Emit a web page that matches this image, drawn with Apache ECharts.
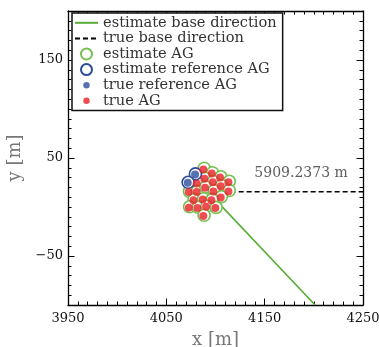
<!DOCTYPE html>
<html><head><meta charset="utf-8">
<script src="https://cdn.jsdelivr.net/npm/echarts@6/dist/echarts.min.js"></script>
<style>html,body{margin:0;padding:0;background:#fff}#c{width:379px;height:347px}</style>
</head><body><div id="c"></div>
<script>
const xTickLabels = [3950, 4050, 4150, 4250];
const yTickLabels = [-50, 50, 150];
const xRange = [3950, 4250];
const yRange = [-100, 200];

const estimateBaseDirection = [[4091, 17.0], [4201.3, -100]];
const trueBaseDirection = [[4091, 15.6], [4250, 15.6]];

const trueAG = [
  [4087.6, 38.3], [4096.2, 34.2], [4104.6, 30.1], [4113.1, 25.3],
  [4088.7, 28.8], [4080.9, 24.0], [4097.2, 25.3], [4105.3, 21.3],
  [4113.1, 15.9], [4072.8, 15.2], [4080.9, 15.2], [4089.4, 19.6],
  [4097.8, 15.9], [4105.3, 9.8], [4077.5, 7.0], [4087.0, 7.7],
  [4095.8, 7.0], [4072.8, -0.7], [4081.5, -1.1], [4090.4, 0.3],
  [4099.8, -1.1], [4087.6, -9.3]
];
const estimateAG = [
  [4088.5, 39.5], [4097.0, 35.0], [4105.5, 30.8], [4114.0, 26.2],
  [4089.5, 29.5], [4081.8, 24.8], [4098.0, 26.0], [4106.2, 22.0],
  [4114.0, 16.8], [4073.5, 16.0], [4081.5, 16.0], [4090.2, 20.4],
  [4098.6, 16.6], [4106.0, 10.6], [4078.2, 7.8], [4087.8, 8.4],
  [4096.6, 7.8], [4073.6, 0.2], [4082.3, -0.3], [4091.2, 1.0],
  [4100.6, -0.4], [4088.4, -8.4]
];
const estimateRefAG = [[4079.6, 33.8], [4072.2, 25.2]];
const trueRefAG = [[4079.2, 33.2], [4071.8, 24.7]];

const distanceLabel = '5909.2373 m';
const distanceLabelPos = [[4187, 34.7]];

const FONT = 'DejaVu Serif';
const cGreenLine = '#57ad36';
const cGreenRing = '#74c150';
const cBlue = '#2d4c9c';
const cRed = '#ea1f26';
const MINOR_LEN = 3.5;
const MAJOR_LEN = 6.5;

const fmt = v => (v < 0 ? '\u2212' + String(-v) : String(v));

// kind: 'main' (line + labels), 'frame' (line only), 'minor' / 'major' (tick overlays shifted into the plot)
function makeAxis(dim, pos, kind) {
  const range = dim === 'x' ? xRange : yRange;
  const labelsAt = dim === 'x' ? xTickLabels : yTickLabels;
  const ax = {
    type: 'value', min: range[0], max: range[1], interval: 10, position: pos,
    splitLine: {show: false},
    axisLine: {show: kind === 'main' || kind === 'frame', onZero: false, lineStyle: {color: '#000', width: 1.3}},
    axisTick: {show: false},
    axisLabel: {show: false}
  };
  if (kind === 'minor') {
    ax.offset = -MINOR_LEN;
    ax.axisTick = {show: true, inside: false, length: MINOR_LEN, lineStyle: {color: '#000', width: 1}};
  } else if (kind === 'major') {
    ax.offset = -MAJOR_LEN;
    ax.axisTick = {show: true, inside: false, length: MAJOR_LEN, customValues: labelsAt, lineStyle: {color: '#000', width: 1}};
  } else if (kind === 'main') {
    ax.axisLabel = {show: true, customValues: labelsAt, formatter: fmt, fontFamily: FONT, fontSize: 13, color: '#111', margin: dim === 'x' ? 7 : 5};
    ax.name = dim === 'x' ? 'x [m]' : 'y [m]';
    ax.nameLocation = 'middle';
    ax.nameGap = dim === 'x' ? 26 : 22;
    ax.nameTextStyle = {fontFamily: FONT, fontSize: 18, color: '#777'};
  }
  return ax;
}

const dotIcon = 'path://M0,0L0,0M12,12L12,12M9.5,6A3.5,3.5,0,1,1,2.5,6A3.5,3.5,0,1,1,9.5,6Z';
const hiddenSym = {color: 'rgba(0,0,0,0)', borderColor: 'rgba(0,0,0,0)', borderWidth: 0};

const chart = echarts.init(document.getElementById('c'), null, {renderer: 'canvas'});
chart.setOption({
  animation: false,
  backgroundColor: '#fff',
  grid: {left: 68, right: 16, top: 11, bottom: 42, containLabel: false, outerBoundsMode: 'none'},
  xAxis: [
    makeAxis('x', 'bottom', 'main'), makeAxis('x', 'bottom', 'minor'), makeAxis('x', 'bottom', 'major'),
    makeAxis('x', 'top', 'frame'), makeAxis('x', 'top', 'minor'), makeAxis('x', 'top', 'major')
  ],
  yAxis: [
    makeAxis('y', 'left', 'main'), makeAxis('y', 'left', 'minor'), makeAxis('y', 'left', 'major'),
    makeAxis('y', 'right', 'frame'), makeAxis('y', 'right', 'minor'), makeAxis('y', 'right', 'major')
  ],
  legend: {
    orient: 'vertical', left: 72, top: 13,
    backgroundColor: '#fff', borderColor: '#111', borderWidth: 1.5, borderRadius: 0,
    padding: [2, 6, 2, 2], itemGap: 0, itemWidth: 23, itemHeight: 11,
    textStyle: {fontFamily: FONT, fontSize: 14.6, color: '#333', lineHeight: 15.6},
    data: [
      {name: 'estimate base direction', itemStyle: hiddenSym},
      {name: 'true base direction', itemStyle: hiddenSym},
      {name: 'estimate AG', icon: 'circle'},
      {name: 'estimate reference AG', icon: 'circle'},
      {name: 'true reference AG', icon: dotIcon},
      {name: 'true AG', icon: dotIcon}
    ]
  },
  series: [
    {name: 'estimate base direction', type: 'line', data: estimateBaseDirection, symbol: 'none',
     lineStyle: {color: cGreenLine, width: 1.6}, itemStyle: {color: cGreenLine}, z: 1},
    {name: 'true base direction', type: 'line', data: trueBaseDirection, symbol: 'none',
     lineStyle: {color: '#000', width: 1.4, type: [5, 3]}, itemStyle: {color: '#000'}, z: 1},
    {name: 'estimate AG', type: 'scatter', data: estimateAG, symbol: 'circle', symbolSize: 12,
     itemStyle: {color: '#fff', borderColor: cGreenRing, borderWidth: 1.6, opacity: 1}, z: 2},
    {name: 'estimate reference AG', type: 'scatter', data: estimateRefAG, symbol: 'circle', symbolSize: 12,
     itemStyle: {color: '#fff', borderColor: cBlue, borderWidth: 1.6, opacity: 1}, z: 3},
    {name: 'true reference AG', type: 'scatter', data: trueRefAG, symbol: 'circle', symbolSize: 8,
     itemStyle: {color: cBlue}, z: 4},
    {name: 'true AG', type: 'scatter', data: trueAG, symbol: 'circle', symbolSize: 8,
     itemStyle: {color: cRed}, z: 4},
    {name: 'distance', type: 'scatter', data: distanceLabelPos, symbolSize: 0, silent: true,
     label: {show: true, position: 'inside', formatter: distanceLabel, fontFamily: FONT, fontSize: 14, color: '#333'}, z: 5}
  ]
});
</script></body></html>
